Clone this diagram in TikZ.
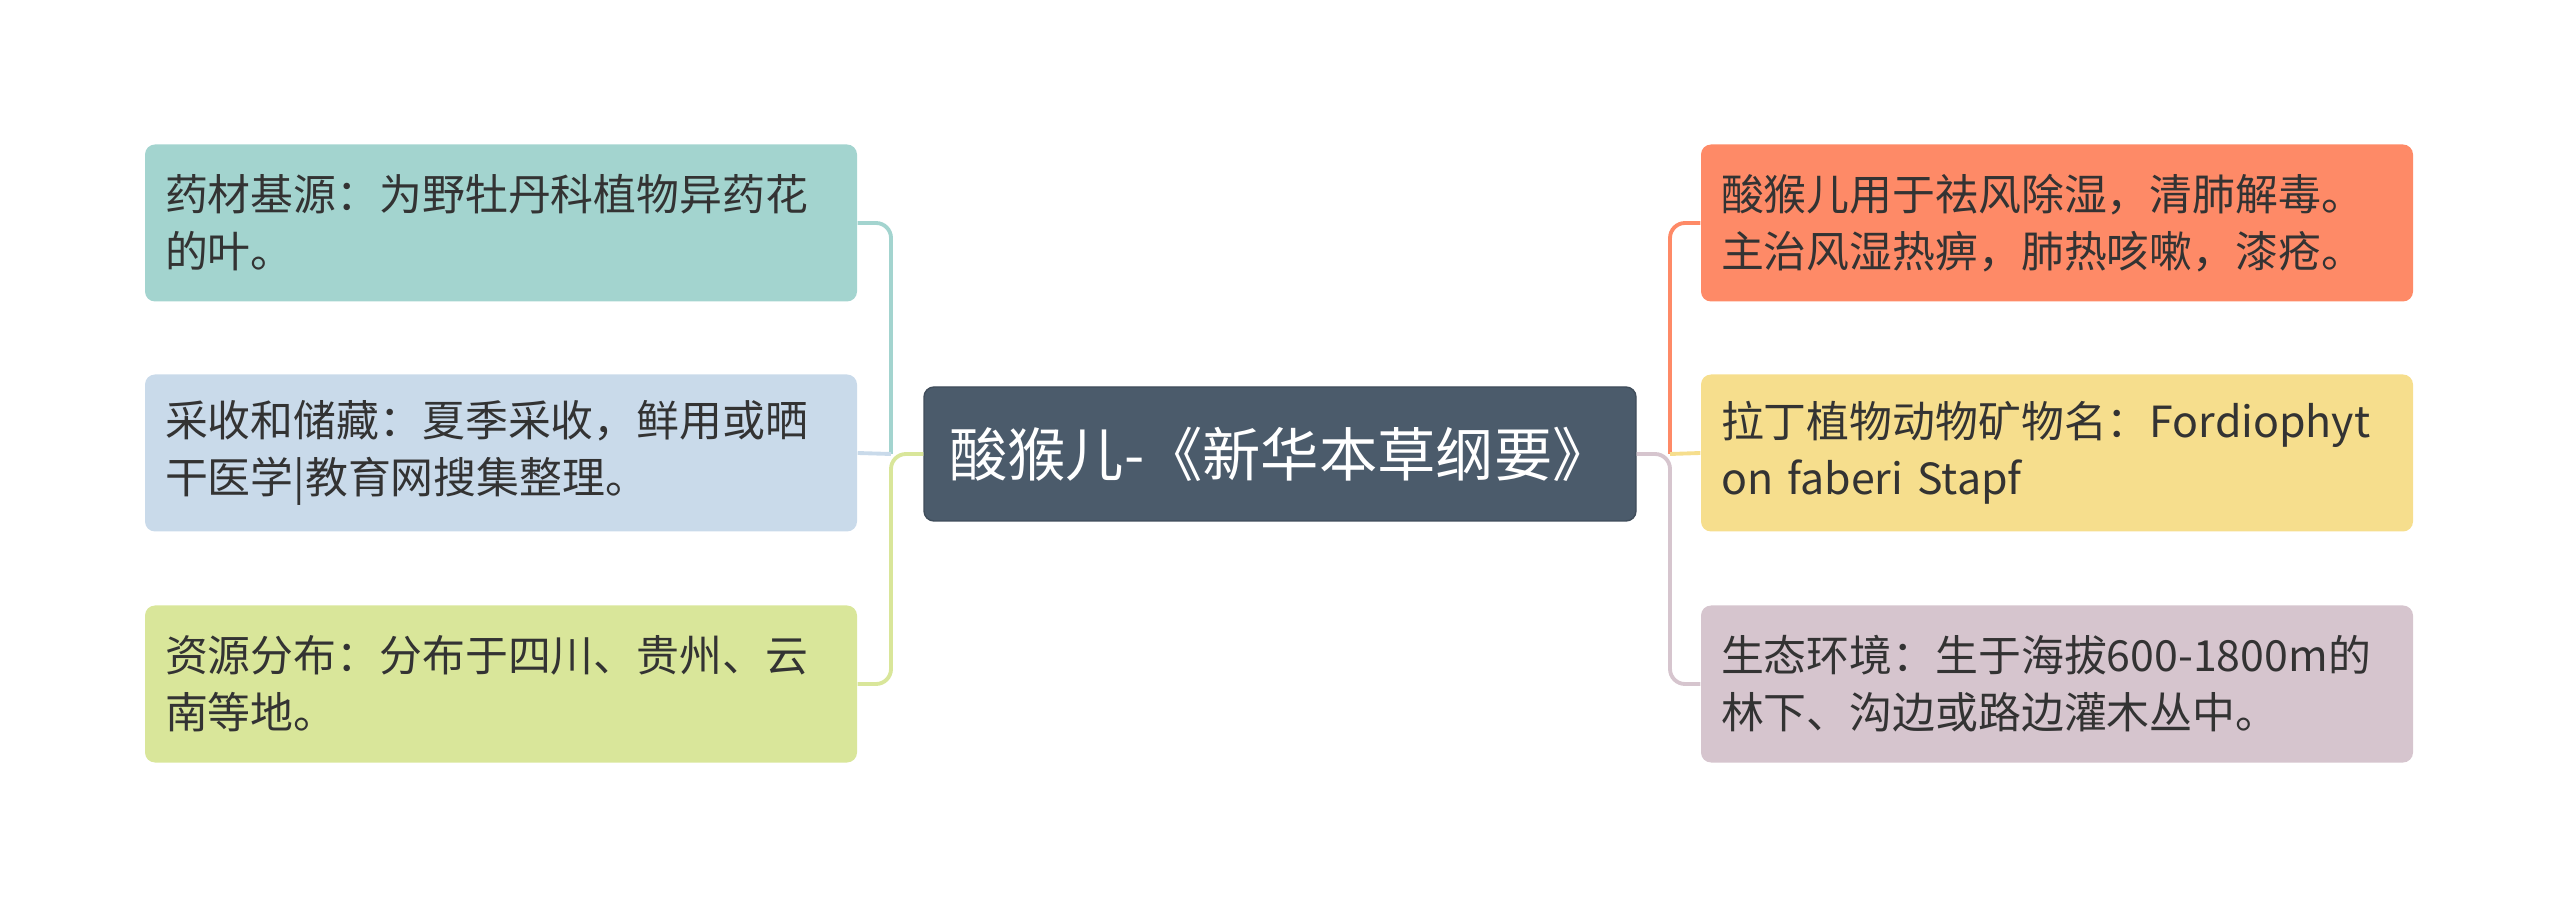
\documentclass[tikz,border=0pt]{standalone}
\usepackage{fontspec}
\newfontfamily\cjk{Noto Sans CJK SC}

\definecolor{rootfill}{HTML}{4B5B6B}
\definecolor{tealfill}{HTML}{A3D4CF}
\definecolor{bluefill}{HTML}{C9DAEA}
\definecolor{limefill}{HTML}{D9E69A}
\definecolor{coralfill}{HTML}{FE8A67}
\definecolor{sandfill}{HTML}{F6DE8D}
\definecolor{mauvefill}{HTML}{D6C5CE}
\definecolor{inkgray}{HTML}{333333}

\begin{document}
\begin{tikzpicture}[
    leaf/.style={rectangle, rounded corners=0.1cm, minimum height=1.57cm, text width=6.72cm,
        inner xsep=0.2cm, inner ysep=0pt, align=left, text=inkgray,
        font=\cjk\fontsize{12.2}{16.2}\selectfont},
    root/.style={rectangle, rounded corners=0.1cm, fill=rootfill, draw=rootfill!85!black,
        minimum width=7.12cm, minimum height=1.34cm, text=white,
        font=\cjk\fontsize{16.6}{20}\selectfont},
    branch/.style={line width=1.1pt, rounded corners=0.15cm}]
    \useasboundingbox (0, 0) rectangle (25.6, -9.07);

    \node[root] at (12.8, -4.54)  (herb)    {酸猴儿-《新华本草纲要》};

    \node[leaf, fill=tealfill] at (5.01, -2.23)  (origin)    {药材基源：为野牡丹科植物异药花\\的叶。};
    \node[leaf, fill=bluefill] at (5.01, -4.53)  (harvest)   {采收和储藏：夏季采收，鲜用或晒\\干医学|教育网搜集整理。};
    \node[leaf, fill=limefill] at (5.01, -6.84)  (range)     {资源分布：分布于四川、贵州、云\\南等地。};

    \node[leaf, fill=coralfill] at (20.57, -2.23)  (usage)   {酸猴儿用于祛风除湿，清肺解毒。\\主治风湿热痹，肺热咳嗽，漆疮。};
    \node[leaf, fill=sandfill]  at (20.57, -4.53)  (latin)   {拉丁植物动物矿物名：Fordiophyt\\on faberi Stapf};
    \node[leaf, fill=mauvefill] at (20.57, -6.84)  (habitat) {生态环境：生于海拔600-1800m的\\林下、沟边或路边灌木丛中。};

    \coordinate (lj) at (8.91, -4.54);
    \coordinate (rj) at (16.70, -4.54);

    % left side
    \draw[branch, tealfill]  (lj) |- (origin.east);
    \draw[branch, bluefill]  (lj) -- (harvest.east);
    \draw[branch, limefill]  (herb.west) -- (lj) |- (range.east);

    % right side
    \draw[branch, coralfill] (rj) |- (usage.west);
    \draw[branch, sandfill]  (rj) -- (latin.west);
    \draw[branch, mauvefill] (herb.east) -- (rj) |- (habitat.west);
\end{tikzpicture}
\end{document}
